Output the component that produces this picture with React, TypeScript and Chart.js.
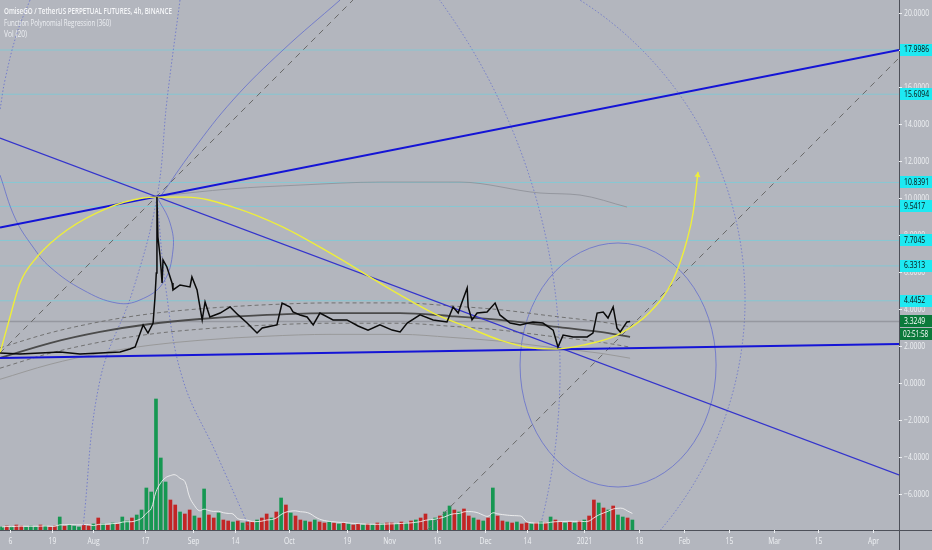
import React, { useEffect, useRef } from 'react';
import { Chart, registerables } from 'chart.js';
Chart.register(...registerables);

// ---- axes / labels ----
const xMinDay = -3.12;
const xMaxDay = 277.1;
const yMinVal = -7.946;
const yMaxVal = 20.703;
const xTickDays = [0, 13, 26, 42, 57, 70, 87, 105, 118, 133, 148, 161, 179, 196, 210, 224, 238, 252, 269];
const xTickLabels = ['6', '19', 'Aug', '17', 'Sep', '14', 'Oct', '19', 'Nov', '16', 'Dec', '14', '2021', '18', 'Feb', '15', 'Mar', '15', 'Apr'];
const yTickVals = [20, 18, 16, 14, 12, 10, 8, 6, 4, 2, 0, -2, -4, -6];
const levelVals = [17.9986, 15.6094, 10.8391, 9.5417, 7.7045, 6.3313, 4.4452];
const lastPrice = 3.3249;
const countdown = '02:51:58';
const legendLines = ['OmiseGO / TetherUS PERPETUAL FUTURES, 4h, BINANCE', 'Function Polynomial Regression (360)', 'Vol (20)'];

// ---- price (close) ----
const priceDays = [-3.1, 3.1, 9.4, 15.6, 21.8, 28.1, 34.3, 37.4, 39.0, 41.5, 43.0, 44.6, 45.2, 45.6, 45.8, 46.1, 46.8, 47.4, 47.7, 48.9, 50.5, 50.8, 53.0, 56.1, 56.7, 58.3, 59.2, 59.9, 60.8, 62.3, 65.5, 68.6, 71.1, 73.9, 77.0, 78.6, 80.1, 83.2, 84.8, 87.3, 88.2, 90.4, 92.6, 94.5, 96.6, 100.7, 105.0, 108.5, 111.6, 115.3, 119.1, 121.6, 123.8, 127.8, 131.9, 136.2, 138.1, 139.7, 140.9, 142.5, 142.8, 144.0, 145.6, 148.7, 151.2, 152.7, 155.9, 159.0, 163.0, 166.1, 169.3, 170.8, 172.4, 175.5, 177.7, 179.9, 181.7, 183.0, 184.9, 186.4, 188.0, 189.2, 190.2, 192.3, 193.3];
const priceVals = [1.62, 1.57, 1.62, 1.68, 1.57, 1.62, 1.68, 1.84, 1.95, 3.14, 2.70, 3.24, 4.65, 5.95, 10.05, 7.89, 6.81, 5.41, 6.65, 6.27, 5.41, 5.03, 5.30, 5.19, 5.73, 5.03, 4.11, 3.41, 4.38, 3.57, 3.78, 4.11, 3.68, 3.24, 2.70, 2.97, 3.03, 3.14, 4.32, 4.11, 3.84, 3.68, 3.57, 3.14, 3.78, 3.41, 3.41, 3.08, 2.86, 3.14, 2.86, 2.76, 3.24, 3.68, 3.41, 3.30, 4.11, 3.78, 4.38, 5.14, 4.11, 3.41, 3.78, 3.84, 4.32, 3.68, 3.24, 3.14, 3.30, 3.24, 2.86, 1.95, 2.59, 2.49, 2.49, 2.49, 2.70, 3.78, 3.84, 3.51, 4.11, 2.97, 2.76, 3.30, 3.32];

// ---- polynomial regression ----
const regDays = [-3.12, 12.47, 28.05, 43.64, 59.23, 80.11, 99.75, 121.57, 137.16, 152.74, 168.33, 183.92, 193.27];
const regMid = [1.35, 2.16, 2.76, 3.19, 3.46, 3.68, 3.78, 3.78, 3.62, 3.41, 3.08, 2.76, 2.49];
const regUp1 = [1.90, 2.71, 3.31, 3.74, 4.01, 4.23, 4.33, 4.33, 4.17, 3.96, 3.63, 3.31, 3.04];
const regLo1 = [0.80, 1.61, 2.21, 2.64, 2.91, 3.13, 3.23, 3.23, 3.07, 2.86, 2.53, 2.21, 1.94];
const regLo2 = [0.20, 1.01, 1.61, 2.04, 2.31, 2.53, 2.63, 2.63, 2.47, 2.26, 1.93, 1.61, 1.34];
const faintArcDays = [46.76, 68.58, 90.40, 115.34, 140.27, 165.21, 177.68, 192.33];
const faintArcVals = [10.11, 10.49, 10.70, 10.86, 10.86, 10.27, 10.16, 9.51];

// ---- drawings ----
const yellowDays = [-3.12, 0, 3.12, 8.42, 17.77, 31.17, 41.46, 45.82, 55.17, 69.51, 85.10, 99.75, 121.57, 131.86, 142.46, 152.74, 163.03, 170.51, 178.62, 189.21, 199.50, 206.67, 211.03, 212.91, 214.46];
const yellowVals = [1.62, 3.57, 5.41, 6.81, 8.27, 9.51, 10.00, 10.05, 10.05, 9.51, 8.43, 7.03, 4.76, 3.78, 3.03, 2.32, 1.89, 1.84, 2.05, 2.59, 3.84, 5.57, 7.73, 9.19, 11.41];
const upperTrendDays = [-3.12, 277.1];
const upperTrendVals = [8.40, 17.9986];
const lowerTrendDays = [-3.12, 277.1];
const lowerTrendVals = [1.35, 2.11];
const descTrendDays = [-3.12, 277.1];
const descTrendVals = [13.24, -4.97];
const dash1Days = [-3.12, 106.9];
const dash1Vals = [1.62, 20.70];
const dash2Days = [130.0, 277.1];
const dash2Vals = [-7.95, 17.57];
const spiralDays = [-3.12, 1.56, 7.17, 12.47, 22.76, 33.35, 40.52, 47.69, 50.81, 49.88, 45.82];
const spiralVals = [11.24, 8.92, 7.35, 6.27, 5.03, 4.32, 4.49, 5.41, 7.19, 8.65, 10.05];
const topLeftArcDays = [6.23, 2.18, -1.56, -3.12];
const topLeftArcVals = [20.70, 18.92, 16.38, 14.76];
const topArcDays = [102.87, 85.10, 69.51, 57.04, 46.76];
const topArcVals = [20.70, 18.0, 15.30, 12.59, 10.05];
const vertDotDays = [52.99, 48.94, 45.82, 38.34, 28.05, 22.76];
const vertDotVals = [20.70, 15.30, 10.05, 5.03, 0.16, -7.78];
const rightDotDays = [45.82, 48.63, 53.93, 64.21, 74.50];
const rightDotVals = [10.05, 5.03, 0.16, -3.78, -7.78];
// ellipses: centre (day, value), radius (days, value units), angles in degrees
const arcCx = [189.53, 118.45, -24.31];
const arcCy = [0.973, 4.486, 0.703];
const arcRx = [30.55, 110.66, 195.76];
const arcRy = [6.595, 19.19, 33.95];
const arcStart = [0, -70, -40];
const arcEnd = [360, 42, 16];
const arcDotted = [false, true, true];

// ---- volume ----
const volStartDay = -2.5;
const volStepDay = 1.5;
const volHeights = [3, 4, 3, 5, 4, 3, 4, 3, 5, 4, 3,
  4, 13, 4, 5, 4, 3, 5, 4, 6, 12,
  6, 5, 7, 6, 13, 9, 12, 15, 20, 42,
  38, 131, 72, 48, 30, 25, 18, 16, 20, 14,
  12, 41, 15, 12, 17, 10, 9, 8, 9, 7,
  8, 8, 10, 12, 16, 12, 18, 32, 25, 17,
  14, 10, 9, 8, 10, 8, 7, 8, 7, 6,
  7, 6, 5, 6, 5, 6, 5, 7, 6, 7,
  7, 6, 8, 7, 9, 10, 12, 16, 10, 12,
  14, 18, 24, 20, 18, 21, 14, 12, 10, 9,
  12, 42, 14, 9, 8, 7, 8, 6, 7, 6,
  7, 8, 7, 13, 10, 8, 7, 8, 7, 9,
  10, 14, 30, 27, 22, 20, 24, 15, 13, 12, 10];
const volDir = 'grgrrgggrgrrgrgggrrgrgrgrggrgg' + 'gggggrrgrrgr' + 'grrgrrgrgrrgrrgrgr' + 'grrgrgrrgrgrgrrgrgrgrrgrgrgrrg' + 'grggrgrrgrgr' + 'grrgrgrrgrgrgrrgrgrg' + 'rrgrgrggrg';

const BG = '#b3b6be';
const FONT = '"Open Sans", "DejaVu Sans", sans-serif';

const pts = (xs: number[], ys: number[]) => xs.map((x, i) => ({ x, y: ys[i] }));

function line(data: any[], color: string, width: number, extra: any = {}) {
  return { type: 'line', data, borderColor: color, borderWidth: width, pointRadius: 0, fill: false, tension: 0, ...extra };
}

function sqText(ctx: CanvasRenderingContext2D, s: string, x: number, y: number, align: CanvasTextAlign, sx: number) {
  ctx.save();
  ctx.translate(x, y);
  ctx.scale(sx, 1);
  ctx.textAlign = align;
  ctx.fillText(s, 0, 0);
  ctx.restore();
}

const bgPlugin = {
  id: 'bgfill',
  beforeDraw(chart: any) {
    const c = chart.ctx;
    c.save();
    c.fillStyle = BG;
    c.fillRect(0, 0, chart.width, chart.height);
    c.restore();
  },
};

const arcPlugin = {
  id: 'arcs',
  beforeDatasetsDraw(chart: any) {
    const { ctx, chartArea: a, scales } = chart;
    const xs = scales.x, ys = scales.y;
    ctx.save();
    ctx.beginPath();
    ctx.rect(a.left, a.top, a.right - a.left, a.bottom - a.top);
    ctx.clip();
    for (let i = 0; i < arcCx.length; i++) {
      const px = xs.getPixelForValue(arcCx[i]);
      const py = ys.getPixelForValue(arcCy[i]);
      const rx = Math.abs(xs.getPixelForValue(arcCx[i] + arcRx[i]) - px);
      const ry = Math.abs(ys.getPixelForValue(arcCy[i] + arcRy[i]) - py);
      ctx.beginPath();
      ctx.ellipse(px, py, rx, ry, 0, (arcStart[i] * Math.PI) / 180, (arcEnd[i] * Math.PI) / 180);
      ctx.setLineDash(arcDotted[i] ? [1.5, 2] : []);
      ctx.strokeStyle = 'rgba(95,105,205,0.75)';
      ctx.lineWidth = 1;
      ctx.stroke();
    }
    ctx.restore();
  },
  afterDatasetsDraw(chart: any) {
    const { ctx, scales } = chart;
    const n = yellowDays.length;
    const x1 = scales.x.getPixelForValue(yellowDays[n - 2]);
    const y1 = scales.y.getPixelForValue(yellowVals[n - 2]);
    const x2 = scales.x.getPixelForValue(yellowDays[n - 1]);
    const y2 = scales.y.getPixelForValue(yellowVals[n - 1]);
    const ang = Math.atan2(y2 - y1, x2 - x1);
    ctx.save();
    ctx.translate(x2, y2);
    ctx.rotate(ang);
    ctx.beginPath();
    ctx.moveTo(0, 0);
    ctx.lineTo(-5, -3);
    ctx.lineTo(-5, 3);
    ctx.closePath();
    ctx.fillStyle = '#eeee3a';
    ctx.fill();
    ctx.restore();
  },
};

const textPlugin = {
  id: 'texts',
  afterDraw(chart: any) {
    const { ctx, chartArea: a, scales } = chart;
    const xs = scales.x, ys = scales.y;
    ctx.save();
    ctx.strokeStyle = '#4d5059';
    ctx.lineWidth = 1;
    ctx.beginPath();
    ctx.moveTo(a.right + 0.5, 0);
    ctx.lineTo(a.right + 0.5, chart.height);
    ctx.moveTo(0, a.bottom + 0.5);
    ctx.lineTo(chart.width, a.bottom + 0.5);
    ctx.stroke();

    ctx.font = `8.5px ${FONT}`;
    ctx.textBaseline = 'middle';
    for (const v of yTickVals) {
      const y = Math.round(ys.getPixelForValue(v)) + 0.5;
      ctx.strokeStyle = '#eef0f3';
      ctx.beginPath();
      ctx.moveTo(a.right, y);
      ctx.lineTo(a.right + 3, y);
      ctx.stroke();
      ctx.fillStyle = '#eef0f3';
      const s = (v < 0 ? '\u2212' : '') + Math.abs(v).toFixed(4);
      sqText(ctx, s, a.right + 5, y, 'left', 0.8);
    }
    for (const v of levelVals) {
      const y = ys.getPixelForValue(v);
      ctx.fillStyle = '#1ee9f2';
      ctx.fillRect(a.right + 1, Math.round(y - 6), chart.width - a.right - 1, 12);
      ctx.fillStyle = '#0b0b0b';
      sqText(ctx, v.toFixed(4), a.right + 5, y, 'left', 0.8);
    }
    const yl = ys.getPixelForValue(lastPrice);
    ctx.fillStyle = '#0b7a3b';
    ctx.fillRect(a.right + 1, Math.round(yl - 6), chart.width - a.right - 1, 12);
    ctx.fillRect(a.right + 1, Math.round(yl + 7), chart.width - a.right - 1, 12);
    ctx.fillStyle = '#ffffff';
    sqText(ctx, lastPrice.toFixed(4), a.right + 5, yl, 'left', 0.8);
    sqText(ctx, countdown, a.right + 4, yl + 13, 'left', 0.75);

    ctx.textBaseline = 'middle';
    for (let i = 0; i < xTickDays.length; i++) {
      const x = Math.round(xs.getPixelForValue(xTickDays[i])) + 0.5;
      ctx.strokeStyle = '#eef0f3';
      ctx.beginPath();
      ctx.moveTo(x, a.bottom);
      ctx.lineTo(x, a.bottom + 3);
      ctx.stroke();
      ctx.fillStyle = '#eef0f3';
      sqText(ctx, xTickLabels[i], x, a.bottom + 12, 'center', 0.8);
    }

    const targets = [168, 107, 23];
    const fonts = [`600 9.5px ${FONT}`, `9.5px ${FONT}`, `9.5px ${FONT}`];
    const colors = ['#f6f7f9', '#eceef2', '#eceef2'];
    ctx.textBaseline = 'alphabetic';
    legendLines.forEach((s, i) => {
      ctx.font = fonts[i];
      const w = ctx.measureText(s).width;
      ctx.fillStyle = colors[i];
      sqText(ctx, s, 4, 14 + i * 11.5, 'left', targets[i] / w);
    });
    ctx.restore();
  },
};

export default function App() {
  const ref = useRef<HTMLCanvasElement>(null);
  useEffect(() => {
    document.body.style.margin = '0';
    document.body.style.background = BG;
    const volData = volHeights.map((h, i) => ({ x: volStartDay + volStepDay * i, y: h }));
    const volColors = volHeights.map((_, i) => (volDir[i] === 'g' ? 'rgba(14,150,76,0.95)' : 'rgba(196,30,28,0.95)'));
    const maWin = 7;
    const volMa = volHeights.map((_, i) => {
      const s = volHeights.slice(Math.max(0, i - maWin + 1), i + 1);
      return { x: volStartDay + volStepDay * i, y: s.reduce((p, c) => p + c, 0) / s.length };
    });
    const blue = 'rgba(95,105,205,0.75)';
    const datasets: any[] = [
      line(pts(priceDays, priceVals), '#0a0a0a', 1.5),
      line(pts(yellowDays, yellowVals), '#eeee3a', 1.4, { cubicInterpolationMode: 'monotone' }),
      line(pts(upperTrendDays, upperTrendVals), '#1414d6', 2),
      line(pts(lowerTrendDays, lowerTrendVals), '#1414d6', 2),
      line(pts(descTrendDays, descTrendVals), '#3434cc', 1.2),
      line(pts(regDays, regMid), '#4b4b4b', 1.8, { cubicInterpolationMode: 'monotone' }),
      line(pts(regDays, regUp1), '#727272', 1, { cubicInterpolationMode: 'monotone', borderDash: [4, 3] }),
      line(pts(regDays, regLo1), '#727272', 1, { cubicInterpolationMode: 'monotone', borderDash: [4, 3] }),
      line(pts(regDays, regLo2), 'rgba(150,150,150,0.9)', 1, { cubicInterpolationMode: 'monotone' }),
      line(pts(faintArcDays, faintArcVals), 'rgba(140,142,150,0.8)', 1, { cubicInterpolationMode: 'monotone' }),
      line(pts(dash1Days, dash1Vals), '#6a6a6a', 1, { borderDash: [6, 5] }),
      line(pts(dash2Days, dash2Vals), '#6a6a6a', 1, { borderDash: [6, 5] }),
      line(pts(spiralDays, spiralVals), blue, 1, { tension: 0.4 }),
      line(pts(topLeftArcDays, topLeftArcVals), blue, 1, { tension: 0.4, borderDash: [1.5, 2] }),
      line(pts(topArcDays, topArcVals), blue, 1, { tension: 0.4 }),
      line(pts(vertDotDays, vertDotVals), blue, 1, { tension: 0.4, borderDash: [1.5, 2] }),
      line(pts(rightDotDays, rightDotVals), blue, 1, { tension: 0.4, borderDash: [1.5, 2] }),
      line(pts([xMinDay, xMaxDay], [lastPrice, lastPrice]), 'rgba(125,127,135,0.55)', 1.5),
      ...levelVals.map((v) => line(pts([xMinDay, xMaxDay], [v, v]), 'rgba(80,220,235,0.45)', 1)),
      line(volMa, 'rgba(245,245,245,0.85)', 1, { yAxisID: 'yv', tension: 0.4 }),
      { type: 'bar', data: volData, yAxisID: 'yv', backgroundColor: volColors, barThickness: 3, borderWidth: 0 },
    ];
    const chart = new Chart(ref.current as HTMLCanvasElement, {
      type: 'line',
      data: { datasets },
      options: {
        responsive: false,
        animation: false,
        events: [],
        layout: { padding: { left: 0, top: 0, right: 33, bottom: 20 } },
        plugins: { legend: { display: false }, tooltip: { enabled: false } },
        scales: {
          x: { type: 'linear', min: xMinDay, max: xMaxDay, display: false, offset: false },
          y: { type: 'linear', min: yMinVal, max: yMaxVal, display: false },
          yv: { type: 'linear', min: 0, max: 530, display: false },
        },
      } as any,
      plugins: [bgPlugin, arcPlugin, textPlugin],
    } as any);
    return () => chart.destroy();
  }, []);
  return <canvas ref={ref} width={932} height={550} style={{ display: 'block', width: 932, height: 550 }} />;
}
